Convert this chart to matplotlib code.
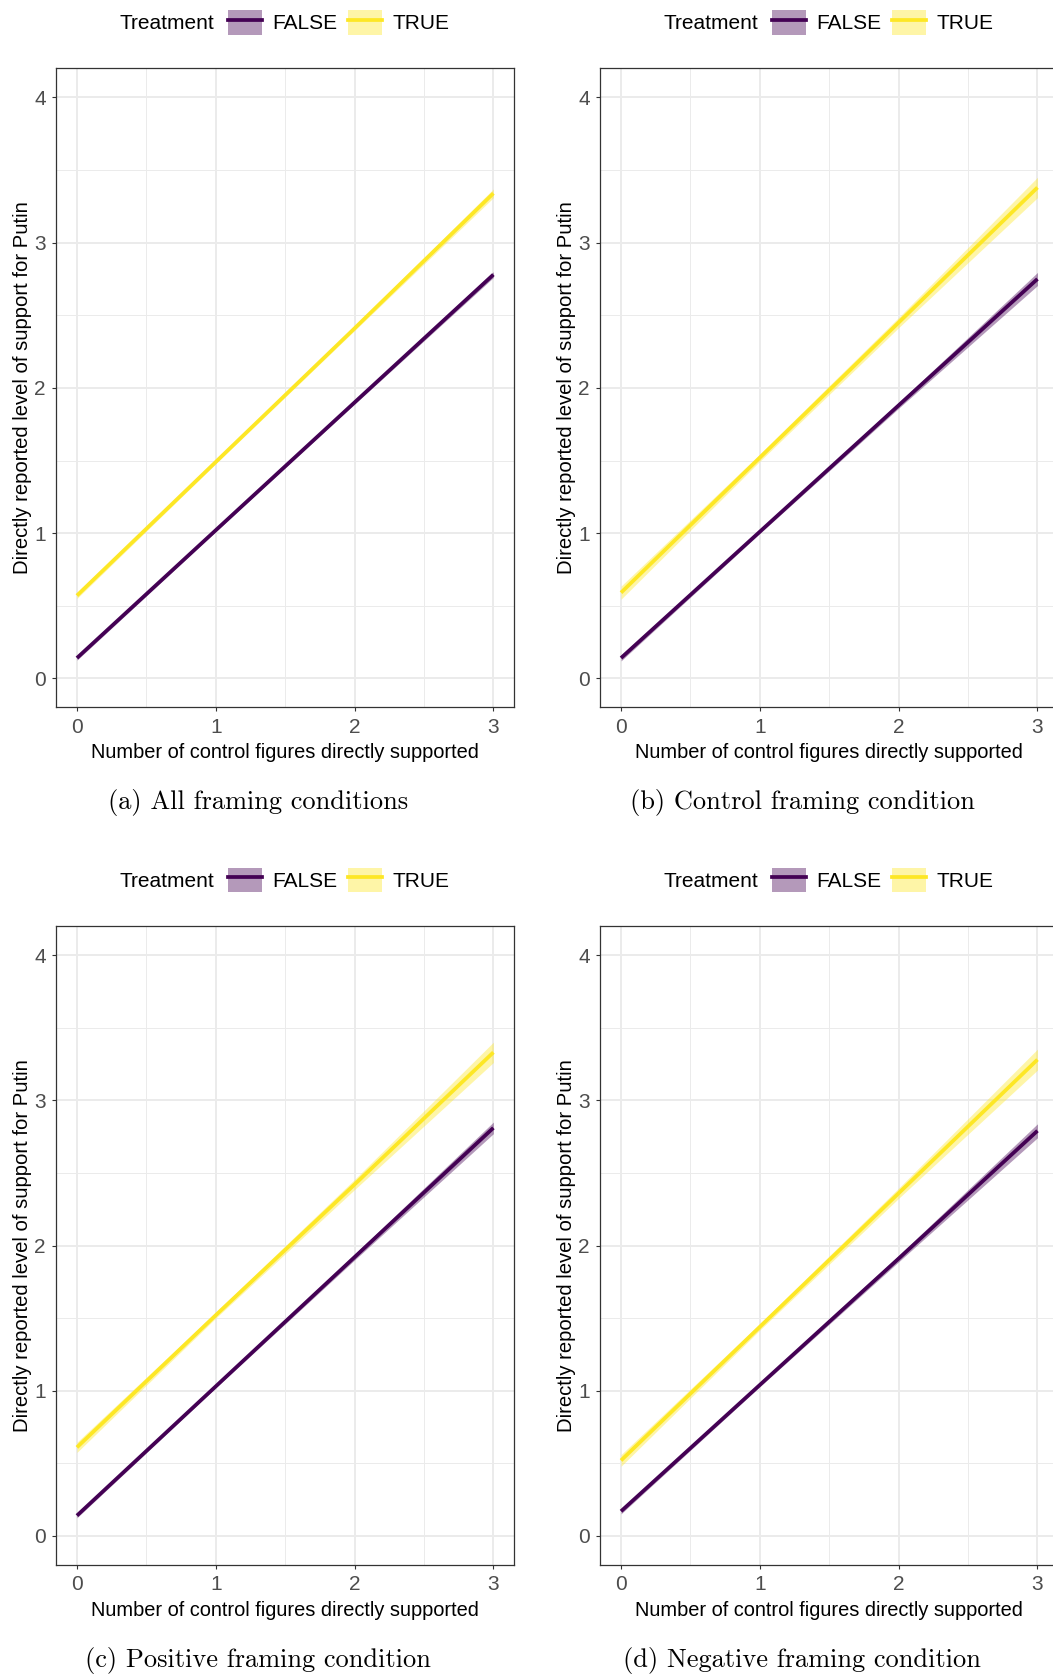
import matplotlib.pyplot as plt
from matplotlib.lines import Line2D
from matplotlib.patches import Patch

# fitted support by number of control figures supported (0..3)
x_vals = [0, 1, 2, 3]

a_false = [0.14, 1.02, 1.90, 2.78]
a_true = [0.57, 1.49, 2.41, 3.34]
a_false_ci = [0.015, 0.010, 0.012, 0.020]
a_true_ci = [0.020, 0.012, 0.015, 0.030]

b_false = [0.14, 1.01, 1.88, 2.75]
b_true = [0.59, 1.52, 2.45, 3.38]
b_false_ci = [0.020, 0.012, 0.020, 0.045]
b_true_ci = [0.045, 0.025, 0.035, 0.070]

c_false = [0.14, 1.03, 1.92, 2.81]
c_true = [0.61, 1.52, 2.42, 3.33]
c_false_ci = [0.015, 0.010, 0.020, 0.040]
c_true_ci = [0.035, 0.020, 0.035, 0.070]

d_false = [0.17, 1.04, 1.91, 2.79]
d_true = [0.52, 1.44, 2.36, 3.28]
d_false_ci = [0.018, 0.012, 0.022, 0.048]
d_true_ci = [0.040, 0.022, 0.035, 0.072]

captions = ["(a) All framing conditions", "(b) Control framing condition",
            "(c) Positive framing condition", "(d) Negative framing condition"]
legend_labels = ["FALSE", "TRUE"]

C_FALSE = "#440154"
C_TRUE = "#FDE725"
W, H = 1053, 1675

plt.rcParams['font.family'] = ['Liberation Sans', 'DejaVu Sans']

fig = plt.figure(figsize=(W / 100, H / 100), dpi=100)


def px_axes(left, top, right, bottom):
    return fig.add_axes([left / W, 1 - bottom / H, (right - left) / W, (bottom - top) / H])


def draw_panel(ax, fit_f, fit_t, ci_f, ci_t):
    for fit, ci, col in [(fit_f, ci_f, C_FALSE), (fit_t, ci_t, C_TRUE)]:
        lo = [v - e for v, e in zip(fit, ci)]
        hi = [v + e for v, e in zip(fit, ci)]
        ax.fill_between(x_vals, lo, hi, color=col, alpha=0.4, lw=0, zorder=2)
        ax.plot(x_vals, fit, color=col, lw=2.7, solid_capstyle='butt', zorder=3)
    ax.set_xlim(-0.15, 3.15)
    ax.set_ylim(-0.2, 4.2)
    ax.set_xticks([0, 1, 2, 3])
    ax.set_yticks([0, 1, 2, 3, 4])
    ax.set_xticks([0.5, 1.5, 2.5], minor=True)
    ax.set_yticks([0.5, 1.5, 2.5, 3.5], minor=True)
    ax.grid(which='major', color='#EBEBEB', lw=1.4, zorder=0)
    ax.grid(which='minor', color='#EBEBEB', lw=0.7, zorder=0)
    ax.set_axisbelow(True)
    ax.tick_params(which='major', length=3, width=0.8, color='#333333',
                   labelcolor='#4D4D4D', labelsize=15, pad=4.5)
    ax.tick_params(which='minor', length=0)
    for s in ax.spines.values():
        s.set_color('#333333')
        s.set_linewidth(0.9)


panels = [
    (a_false, a_true, a_false_ci, a_true_ci),
    (b_false, b_true, b_false_ci, b_true_ci),
    (c_false, c_true, c_false_ci, c_true_ci),
    (d_false, d_true, d_false_ci, d_true_ci),
]

col_left = [56.1, 600.2]
row_top = [68.4, 926.0]
pw, ph = 458.1, 639.0

for i, (ff, ft, cf, ct) in enumerate(panels):
    r, c = divmod(i, 2)
    left, top = col_left[c], row_top[r]
    ax = px_axes(left, top, left + pw, top + ph)
    draw_panel(ax, ff, ft, cf, ct)
    cx = left + pw / 2

    # axis titles
    fig.text(cx / W, 1 - (top + ph + 45) / H,
             "Number of control figures directly supported",
             ha='center', va='center', fontsize=14.4)
    fig.text((left - 34) / W, 1 - (top + ph / 2) / H,
             "Directly reported level of support for Putin",
             ha='center', va='center', rotation=90, fontsize=14.6)

    # legend strip above the panel
    ly = top - 46
    fig.text((left + 63) / W, 1 - (ly + 1.5) / H, "Treatment",
             ha='left', va='center', fontsize=15)
    handles = [
        (Patch(facecolor=C_FALSE, alpha=0.4, lw=0), Line2D([], [], color=C_FALSE, lw=2.7)),
        (Patch(facecolor=C_TRUE, alpha=0.4, lw=0), Line2D([], [], color=C_TRUE, lw=2.7)),
    ]
    fig.legend(handles, legend_labels, ncol=2, frameon=False, fontsize=15,
               loc='center left', bbox_to_anchor=((left + 172) / W, 1 - ly / H),
               borderpad=0, borderaxespad=0, handlelength=1.63, handleheight=1.44,
               handletextpad=0.5, columnspacing=0.5)

    # sub-figure caption
    fig.text((cx - 27) / W, 1 - (top + ph + 95) / H, captions[i],
             ha='center', va='center', fontsize=19, family='cmr10')

fig.savefig("out.png", dpi=100)
